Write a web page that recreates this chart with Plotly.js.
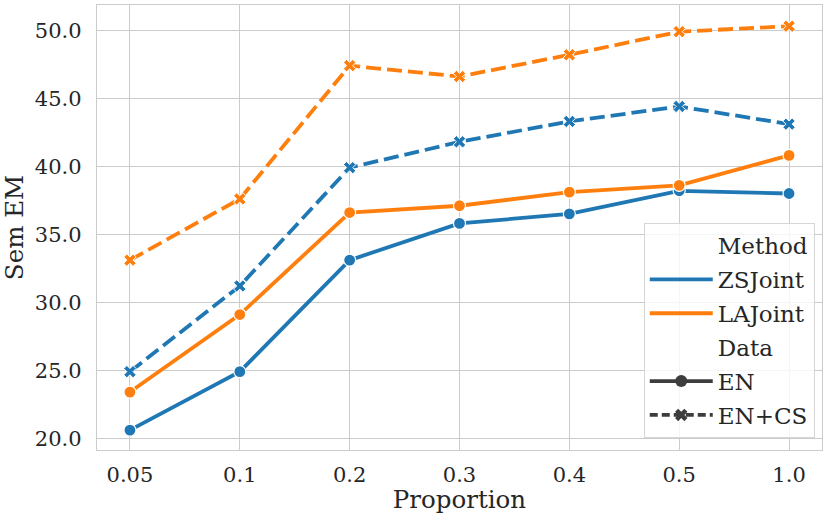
<!DOCTYPE html>
<html>
<head>
<meta charset="utf-8">
<script src="https://cdn.plot.ly/plotly-3.0.1.min.js"></script>
<style>
  html, body { margin: 0; padding: 0; background: #fff; }
  #chart { width: 831px; height: 514px; }
</style>
</head>
<body>
<div id="chart"></div>
<script>
// ─── Data ────────────────────────────────────────────────────────────────────
const proportions = ['0.05', '0.1', '0.2', '0.3', '0.4', '0.5', '1.0'];

const zsJointEN   = [20.6, 24.9, 33.1, 35.8, 36.5, 38.2, 38.0];
const laJointEN   = [23.4, 29.1, 36.6, 37.1, 38.1, 38.6, 40.8];
const zsJointENCS = [24.9, 31.2, 39.9, 41.8, 43.3, 44.4, 43.1];
const laJointENCS = [33.1, 37.6, 47.4, 46.6, 48.2, 49.9, 50.3];

const yTicks = [20, 25, 30, 35, 40, 45, 50];

const BLUE   = '#1f77b4';
const ORANGE = '#ff7f0e';
const DARK   = '#3d3d3d';
const DASH   = '15px,6px';
const LW     = 3.8;
const FONT   = 'DejaVu Serif, serif';

// ─── Traces ──────────────────────────────────────────────────────────────────
function series(y, color, dashed) {
  return {
    x: proportions, y: y, type: 'scatter', mode: 'lines+markers',
    showlegend: false,
    line: { color: color, width: LW, dash: dashed ? DASH : 'solid' },
    marker: dashed
      ? { symbol: 'x', size: 11, color: color, line: { color: '#fff', width: 1 } }
      : { symbol: 'circle', size: 12, color: color, line: { color: '#fff', width: 1.2 } },
  };
}

// legend-only entries (seaborn-style grouped legend)
function legendItem(name, opts, i) {
  return Object.assign({
    x: [null], y: [null], type: 'scatter', name: name,
    legendgroup: 'g' + i, showlegend: true,
  }, opts);
}

const legendItems = [
  legendItem('Method',  { mode: 'lines', line: { color: 'rgba(0,0,0,0)', width: 0 } }, 0),
  legendItem('ZSJoint', { mode: 'lines', line: { color: BLUE, width: LW } }, 1),
  legendItem('LAJoint', { mode: 'lines', line: { color: ORANGE, width: LW } }, 2),
  legendItem('Data',    { mode: 'lines', line: { color: 'rgba(0,0,0,0)', width: 0 } }, 3),
  legendItem('EN',      { mode: 'lines+markers', line: { color: DARK, width: LW },
                          marker: { symbol: 'circle', size: 12, color: DARK } }, 4),
  legendItem('EN+CS',   { mode: 'lines+markers', line: { color: DARK, width: LW, dash: '8px,4px' },
                          marker: { symbol: 'x', size: 11, color: DARK } }, 5),
];

const data = [
  series(zsJointEN, BLUE, false),
  series(laJointEN, ORANGE, false),
  series(zsJointENCS, BLUE, true),
  series(laJointENCS, ORANGE, true),
  ...legendItems,
];

// ─── Layout ──────────────────────────────────────────────────────────────────
const axisBase = {
  showgrid: true, gridcolor: '#cccccc', gridwidth: 1,
  showline: true, linecolor: '#cccccc', linewidth: 1.2, mirror: true,
  ticks: '', zeroline: false,
  tickfont: { family: FONT, size: 21, color: '#262626' },
};

const layout = {
  width: 831, height: 514,
  margin: { l: 97, r: 9, t: 5, b: 64 },
  paper_bgcolor: '#fff', plot_bgcolor: '#fff',
  font: { family: FONT, color: '#262626' },
  xaxis: Object.assign({}, axisBase, {
    type: 'category', range: [-0.3, 6.3],
    ticklabelstandoff: 6,
    title: { text: 'Proportion', font: { family: FONT, size: 24.5, color: '#262626' }, standoff: 2 },
  }),
  yaxis: Object.assign({}, axisBase, {
    range: [19.14, 51.86], tickvals: yTicks, tickformat: '.1f',
    ticklabelstandoff: 10,
    title: { text: 'Sem EM', font: { family: FONT, size: 24.5, color: '#262626' }, standoff: 6 },
  }),
  legend: {
    x: 0.99, y: 0.027, xanchor: 'right', yanchor: 'bottom',
    bgcolor: 'rgba(255,255,255,0.8)', bordercolor: '#d6d6d6', borderwidth: 1,
    font: { family: FONT, size: 23, color: '#262626' },
    traceorder: 'grouped', tracegroupgap: 1, itemwidth: 63,
  },
};

Plotly.newPlot('chart', data, layout, { staticPlot: true });
</script>
</body>
</html>
